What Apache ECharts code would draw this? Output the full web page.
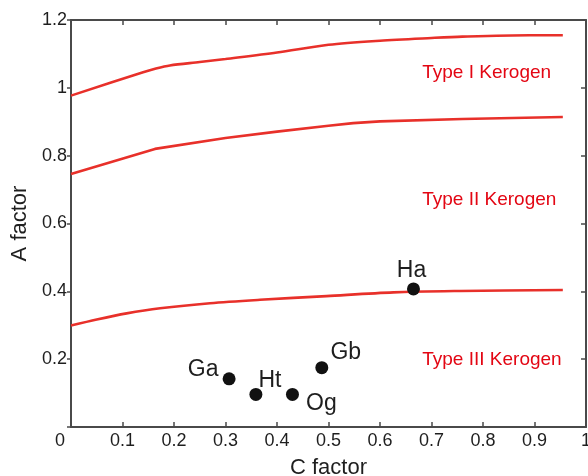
<!DOCTYPE html>
<html><head><meta charset="utf-8">
<script src="https://cdn.jsdelivr.net/npm/echarts@6/dist/echarts.min.js"></script>
<style>html,body{margin:0;padding:0;background:#fff}#c{width:588px;height:476px}</style>
</head><body><div id="c"></div>
<script>
// Curve data (C factor vs A factor)
const typeIX = [0, 0.14, 0.165, 0.192, 0.25, 0.3, 0.4, 0.5, 0.6, 0.7, 0.76, 0.89, 0.955];
const typeIY = [0.977, 1.046, 1.057, 1.066, 1.076, 1.085, 1.104, 1.127, 1.139, 1.147, 1.151, 1.155, 1.155];
const typeIIX = [0, 0.163, 0.3, 0.4, 0.5, 0.548, 0.6, 0.76, 0.955];
const typeIIY = [0.746, 0.820, 0.852, 0.871, 0.888, 0.896, 0.901, 0.908, 0.914];
const typeIIIX = [0, 0.05, 0.108, 0.173, 0.27, 0.367, 0.496, 0.626, 0.755, 0.955];
const typeIIIY = [0.299, 0.317, 0.335, 0.350, 0.365, 0.375, 0.386, 0.397, 0.401, 0.404];
// Samples
const sampleNames = ['Ga', 'Ht', 'Og', 'Gb', 'Ha'];
const sampleC = [0.307, 0.359, 0.430, 0.487, 0.665];
const sampleA = [0.142, 0.096, 0.096, 0.175, 0.407];
// Region labels
const regionNames = ['Type I Kerogen', 'Type II Kerogen', 'Type III Kerogen'];
const regionC = [0.682, 0.682, 0.682];
const regionA = [1.043, 0.670, 0.198];
// Axis ticks
const xTicks = [0, 0.1, 0.2, 0.3, 0.4, 0.5, 0.6, 0.7, 0.8, 0.9, 1];
const yTicks = [0, 0.2, 0.4, 0.6, 0.8, 1, 1.2];

const labelOffsets = {Ga: [-26, -9], Ht: [14, -14], Og: [29, 9], Gb: [24, -15], Ha: [-2, -18]};
const zip = (a, b) => a.map((v, i) => [v, b[i]]);
const FONT = '"Liberation Sans", Arial, Helvetica, sans-serif';
const AX = '#4a4a4a';
const RED = '#e8302a';
const TXT = '#1e1e1e';
const fmt = v => String(+(+v).toFixed(1));

const chart = echarts.init(document.getElementById('c'), null, {renderer: 'canvas'});
const lineSeries = (name, xs, ys, smooth) => ({
  name, type: 'line', data: zip(xs, ys), showSymbol: false, symbol: 'none', smooth,
  lineStyle: {color: RED, width: 2.6}, silent: true, z: 2
});
const frameAxis = {
  axisLine: {show: true, onZero: false, lineStyle: {color: AX, width: 2}},
  axisTick: {show: true, inside: true, length: 5, lineStyle: {color: AX, width: 1.5}},
  axisLabel: {show: false}, splitLine: {show: false}
};
chart.setOption({
  animation: false,
  textStyle: {fontFamily: FONT},
  grid: {left: 71, right: 2, top: 20, bottom: 49, containLabel: false, outerBoundsMode: 'none'},
  xAxis: [{
    type: 'value', min: xTicks[0], max: xTicks[xTicks.length - 1], interval: 0.1,
    name: 'C factor', nameLocation: 'middle', nameGap: 30,
    nameTextStyle: {fontSize: 22, color: TXT, fontFamily: FONT},
    axisLine: {show: true, onZero: false, lineStyle: {color: AX, width: 2}},
    axisTick: {show: true, inside: true, length: 5, lineStyle: {color: AX, width: 1.5}},
    splitLine: {show: false},
    axisLabel: {
      fontSize: 18, color: TXT, margin: 5, fontFamily: FONT,
      formatter: v => (+v === 0 ? '{z|0}' : fmt(v)),
      rich: {z: {fontSize: 18, color: TXT, padding: [0, 22, 0, 0], fontFamily: FONT}}
    }
  }, Object.assign({type: 'value', position: 'top', min: 0, max: 1, interval: 0.1}, frameAxis)],
  yAxis: [{
    type: 'value', min: yTicks[0], max: yTicks[yTicks.length - 1], interval: 0.2,
    name: 'A factor', nameLocation: 'middle', nameGap: 40,
    nameTextStyle: {fontSize: 22, color: TXT, fontFamily: FONT},
    axisLine: {show: true, onZero: false, lineStyle: {color: AX, width: 2}},
    axisTick: {show: true, inside: false, length: 4, lineStyle: {color: AX, width: 1.5}},
    splitLine: {show: false},
    axisLabel: {fontSize: 18, color: TXT, margin: 4, fontFamily: FONT,
      formatter: v => (+v === 0 ? '' : fmt(v))}
  }, Object.assign({type: 'value', position: 'right', min: 0, max: 1.2, interval: 0.2}, frameAxis)],
  series: [
    lineSeries('Type I', typeIX, typeIY, 0.3),
    lineSeries('Type II', typeIIX, typeIIY, false),
    lineSeries('Type III', typeIIIX, typeIIIY, 0.3),
    {
      type: 'scatter', symbol: 'circle', symbolSize: 13, z: 5,
      itemStyle: {color: '#111', opacity: 1},
      data: sampleNames.map((n, i) => ({
        value: [sampleC[i], sampleA[i]], name: n,
        label: {show: true, position: 'inside', offset: labelOffsets[n], formatter: n,
          fontSize: 23, color: TXT, opacity: 1, fontFamily: FONT}
      }))
    },
    {
      type: 'scatter', symbolSize: 0, z: 4, silent: true,
      itemStyle: {opacity: 1},
      data: regionNames.map((n, i) => ({
        value: [regionC[i], regionA[i]],
        label: {show: true, position: 'right', distance: 0, formatter: n,
          fontSize: 19, color: '#e30613', fontFamily: FONT, align: 'left'}
      }))
    }
  ]
});
</script></body></html>
